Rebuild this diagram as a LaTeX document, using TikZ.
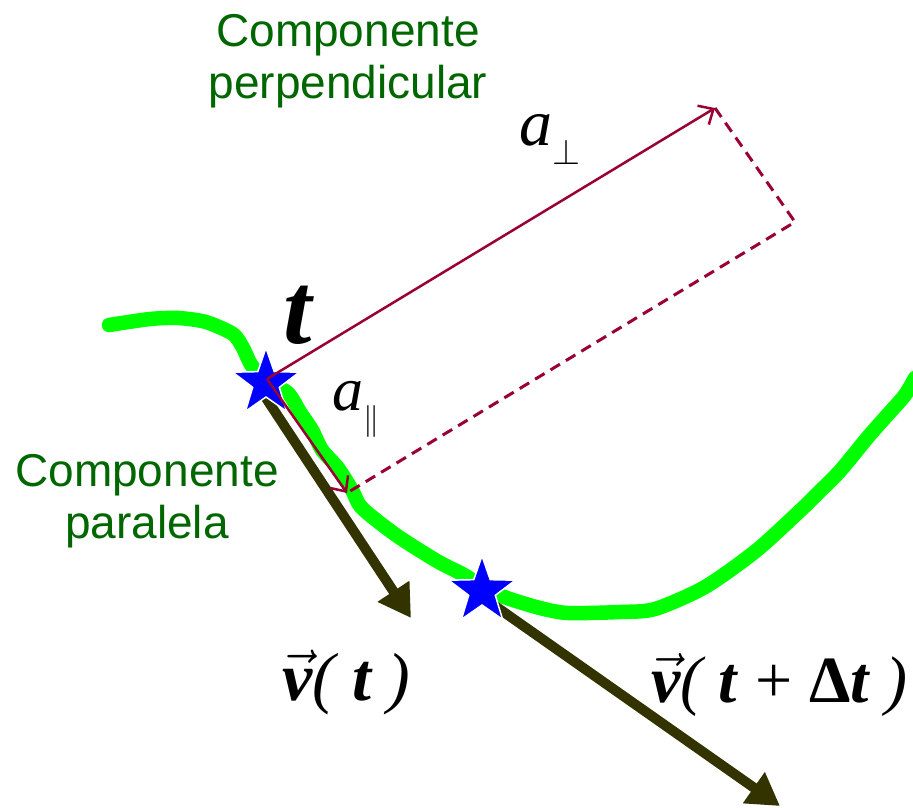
\RequirePackage{fix-cm}
\documentclass[tikz,border=0pt]{standalone}
\usepackage{fontspec}
\usepackage{amsmath}
\setmainfont{Liberation Serif}
\newfontfamily\capfont{Liberation Sans}
\usepackage{tikz}
\usetikzlibrary{arrows.meta,shapes.geometric}
\definecolor{trailc}{HTML}{00FF00}
\definecolor{velc}{HTML}{333300}
\definecolor{accc}{HTML}{990033}
\definecolor{capc}{HTML}{006600}
\tikzset{
  trail/.style={line width=14.5pt,trailc,line join=round,line cap=round},
  vel/.style={-{Triangle[length=32pt,width=36pt]},line width=10pt,velc},
  comp/.style={-{Straight Barb[length=12pt,width=22pt]},line width=2.5pt,accc},
  proj/.style={line width=3pt,accc,dash pattern=on 11pt off 7pt},
  pt/.style={star,star points=5,star point ratio=2.5,fill=blue,draw=white,line width=1.5pt,minimum size=70pt,inner sep=0pt},
  captxt/.style={capc,align=center,inner sep=0pt,font=\capfont\fontsize{46}{52}\selectfont},
  lbl/.style={inner sep=0pt,anchor=base west}
}
\begin{document}
\begin{tikzpicture}[x=1pt,y=-1pt]
\useasboundingbox (0,0) rectangle (913,807);
% trajectory
\draw[trail] plot[smooth,tension=0.45] coordinates {(109,325) (150,319) (178,318) (206,322) (233,334) (243,348) (252,366) (268,382) (288,393) (300,412) (312,430) (322,450) (338,468) (352,490) (362,508) (396,535) (437,561) (466,576) (483,588) (507,598) (540,608) (568,613) (620,612) (655,609) (705,587) (757,550) (805,506) (815,496) (840,471) (868,437) (891,411) (905,395) (915,378)};
\coordinate (p1) at (266,383);
\coordinate (p2) at (482,591);
\coordinate (o) at (267,379);
\coordinate (v1b) at (262,392);
\coordinate (v1e) at (411,618);
\coordinate (v2b) at (488,601);
\coordinate (v2e) at (780,806);
\coordinate (aperp) at (715,108);
\coordinate (apar) at (347,493);
\coordinate (corner) at (795,222);
% velocities
\draw[vel] (v1b) -- (v1e);
\draw[vel] (v2b) -- (v2e);
\node[pt] (s1) at (p1) {};
\node[pt] (s2) at (p2) {};
% acceleration components
\draw[proj] (aperp) -- (corner) -- (apar);
\draw[comp] (o) -- (aperp);
\draw[comp] (o) -- (apar);
% labels
\node[captxt,anchor=north] (perpcap) at (348,14) {Componente\\perpendicular};
\node[captxt,anchor=north] (parcap) at (147,454) {Componente\\paralela};
\node[lbl] (lt) at (283,343) {\fontsize{102}{102}\selectfont\bfseries\itshape t};
\node[lbl] (lperp) at (519,145) {\fontsize{66}{70}\selectfont\itshape a\raisebox{-0.3em}{\fontsize{36}{36}\selectfont$\perp$}};
\node[lbl] (lpar) at (332,410) {\fontsize{62}{70}\selectfont\itshape a\raisebox{-0.32em}{\fontsize{32}{32}\selectfont$\|$}};
\node[lbl] (lv1) at (282,700) {\fontsize{68}{70}\selectfont$\vec{\text{\bfseries\itshape v}}$\itshape( \textbf{t} )};
\node[lbl] (lv2) at (651,702) {\fontsize{66}{70}\selectfont$\vec{\text{\bfseries\itshape v}}$\itshape( \textbf{t} \textup{+} \textbf{\textup{Δ}t} )};
\end{tikzpicture}
\end{document}
